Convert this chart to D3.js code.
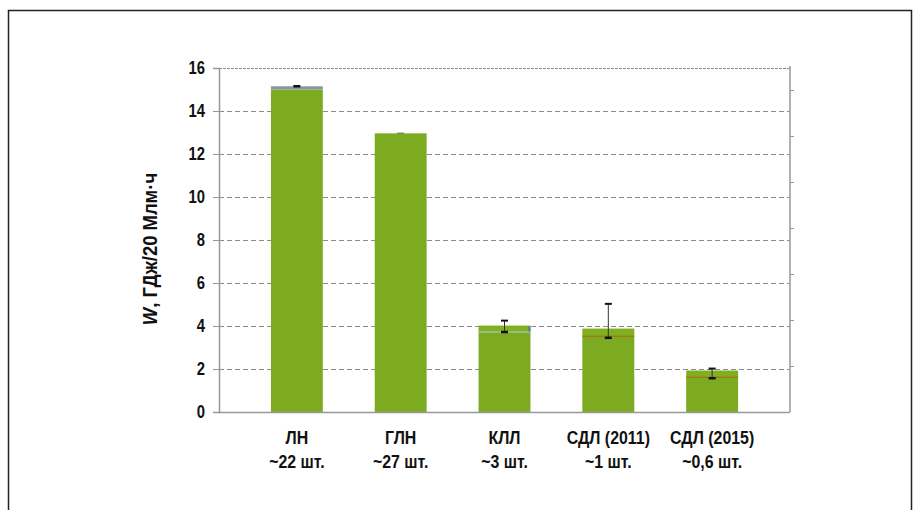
<!DOCTYPE html>
<html>
<head>
<meta charset="utf-8">
<script src="https://cdn.jsdelivr.net/npm/d3@7"></script>
<style>
  html, body { margin: 0; padding: 0; background: #fff; }
  svg text { font-family: "Liberation Sans Narrow", "Arial Narrow", "Liberation Sans", sans-serif; font-weight: bold; fill: #111; }
</style>
</head>
<body>
<svg id="chart" width="920" height="510"></svg>
<script>
// Lamp types and approximate counts needed
const categories = ["ЛН", "ГЛН", "КЛЛ", "СДЛ (2011)", "СДЛ (2015)"];
const counts = ["~22 шт.", "~27 шт.", "~3 шт.", "~1 шт.", "~0,6 шт."];
// Energy, GJ per 20 Mlm·h: lower (base) part and full bar height
const baseValues = [15.0, 12.95, 3.72, 3.52, 1.62];
const totalValues = [15.15, 12.97, 4.02, 3.88, 1.93];
// Error bars: lower marker and upper whisker
const errLow = [15.15, 12.97, 3.72, 3.45, 1.57];
const errHigh = [15.17, 12.99, 4.25, 5.03, 2.02];
const yTicks = [0, 2, 4, 6, 8, 10, 12, 14, 16];
const y2Ticks = [1, 2, 3, 4, 5, 6, 7];

const svg = d3.select("#chart");

// outer frame
svg.append("rect")
  .attr("x", 8.5).attr("y", 10.5).attr("width", 903).attr("height", 520)
  .attr("fill", "none").attr("stroke", "#222").attr("stroke-width", 1.5);

const plotL = 219, plotR = 790, plotT = 68, plotB = 412;

const x = d3.scaleBand().domain(categories).range([plotL, plotR])
  .paddingInner(0.5).paddingOuter(0.5);
const y = d3.scaleLinear().domain([0, 16]).range([plotB, plotT]);
const y2 = d3.scaleLinear().domain([0, 7.5]).range([plotB, plotB - 345]);

// grid lines
svg.append("g").selectAll("line").data(yTicks.filter(d => d > 0)).join("line")
  .attr("x1", plotL).attr("x2", plotR)
  .attr("y1", d => y(d) + 0.5).attr("y2", d => y(d) + 0.5)
  .attr("stroke", "#8a8a8a").attr("stroke-width", 1)
  .attr("stroke-dasharray", d => d === 16 ? "3,1" : "5,3");

// left axis; labels drawn condensed
const yAxis = svg.append("g").attr("transform", `translate(${plotL},0)`)
  .call(d3.axisLeft(y).tickValues(yTicks).tickSize(6).tickPadding(7).tickFormat(d3.format("d")));
yAxis.select(".domain").attr("stroke", "#999").attr("stroke-width", 1.5);
yAxis.selectAll(".tick line").attr("stroke", "#999");
yAxis.selectAll(".tick text")
  .attr("x", null).attr("font-size", 18.5).attr("fill", "#111")
  .attr("transform", "translate(-14,0) scale(0.8,1)")
  .style("font-family", "'Liberation Sans Narrow', 'Arial Narrow', 'Liberation Sans', sans-serif").style("font-weight", "bold");

// right secondary axis
const y2Axis = svg.append("g").attr("transform", `translate(${plotR},0)`)
  .call(d3.axisRight(y2).tickValues(y2Ticks).tickSize(4).tickFormat(""));
y2Axis.select(".domain").attr("stroke", "#999").attr("stroke-width", 1.5)
  .attr("d", `M0,${plotB}V${plotT - 2}`);
y2Axis.selectAll(".tick line").attr("stroke", "#999");

// bars: base part
const bars = svg.append("g");
bars.selectAll("rect.base").data(categories).join("rect").attr("class", "base")
  .attr("x", d => x(d)).attr("width", x.bandwidth())
  .attr("y", (d, i) => y(baseValues[i])).attr("height", (d, i) => plotB - y(baseValues[i]))
  .attr("fill", "#7cab22");
// bars: upper part
bars.selectAll("rect.upper").data(categories).join("rect").attr("class", "upper")
  .attr("x", d => x(d)).attr("width", x.bandwidth())
  .attr("y", (d, i) => y(totalValues[i])).attr("height", (d, i) => y(baseValues[i]) - y(totalValues[i]))
  .attr("fill", (d, i) => i === 0 ? "#8a96a0" : "#80b020");
// separator between parts
const sepColors = ["#8a96a0", "#7cab22", "#9cc0b0", "#a07a1e", "#a07a1e"];
bars.selectAll("line.sep").data(categories).join("line").attr("class", "sep")
  .attr("x1", d => x(d)).attr("x2", d => x(d) + x.bandwidth())
  .attr("y1", (d, i) => y(baseValues[i])).attr("y2", (d, i) => y(baseValues[i]))
  .attr("stroke", (d, i) => sepColors[i]).attr("stroke-width", (d, i) => i >= 2 ? 1.5 : 0);
// small blue sliver on КЛЛ
bars.append("rect")
  .attr("x", x("КЛЛ") + x.bandwidth() - 2).attr("width", 2)
  .attr("y", y(totalValues[2]) + 1).attr("height", y(baseValues[2] + 0.03) - y(totalValues[2]) - 1)
  .attr("fill", "#4a7ab8");

// bottom axis line
svg.append("line").attr("x1", plotL).attr("x2", plotR)
  .attr("y1", plotB + 0.5).attr("y2", plotB + 0.5)
  .attr("stroke", "#999").attr("stroke-width", 1.5);

// error bars
const eb = svg.append("g").attr("stroke", "#111");
categories.forEach((c, i) => {
  const cx = x(c) + x.bandwidth() / 2;
  if (i >= 2) {
    eb.append("line").attr("x1", cx).attr("x2", cx)
      .attr("y1", y(errHigh[i])).attr("y2", y(errLow[i])).attr("stroke-width", 1).attr("stroke", "#333");
    eb.append("line").attr("x1", cx - 3.5).attr("x2", cx + 3.5)
      .attr("y1", y(errHigh[i])).attr("y2", y(errHigh[i])).attr("stroke-width", 2);
  }
  eb.append("line").attr("x1", cx - 3.5).attr("x2", cx + 3.5)
    .attr("y1", y(errLow[i])).attr("y2", y(errLow[i])).attr("stroke-width", i === 1 ? 1 : 2.5)
    .attr("stroke", i === 1 ? "#557722" : "#111");
});

// category labels, condensed
const lab = svg.append("g");
categories.forEach((c, i) => {
  const cx = x(c) + x.bandwidth() / 2;
  const t = lab.append("text").attr("text-anchor", "middle").attr("font-size", 18.5)
    .attr("transform", `translate(${cx},0) scale(0.86,1)`);
  t.append("tspan").attr("x", 0).attr("y", 444).text(c);
  t.append("tspan").attr("x", 0).attr("y", 468).text(counts[i]);
});

// y axis title
const title = svg.append("text")
  .attr("transform", `translate(157,249) rotate(-90) scale(0.9,1)`)
  .attr("text-anchor", "middle").attr("font-size", 20.5);
title.append("tspan").attr("font-style", "italic").text("W");
title.append("tspan").text(", ГДж/20 Млм·ч");
</script>
</body>
</html>
